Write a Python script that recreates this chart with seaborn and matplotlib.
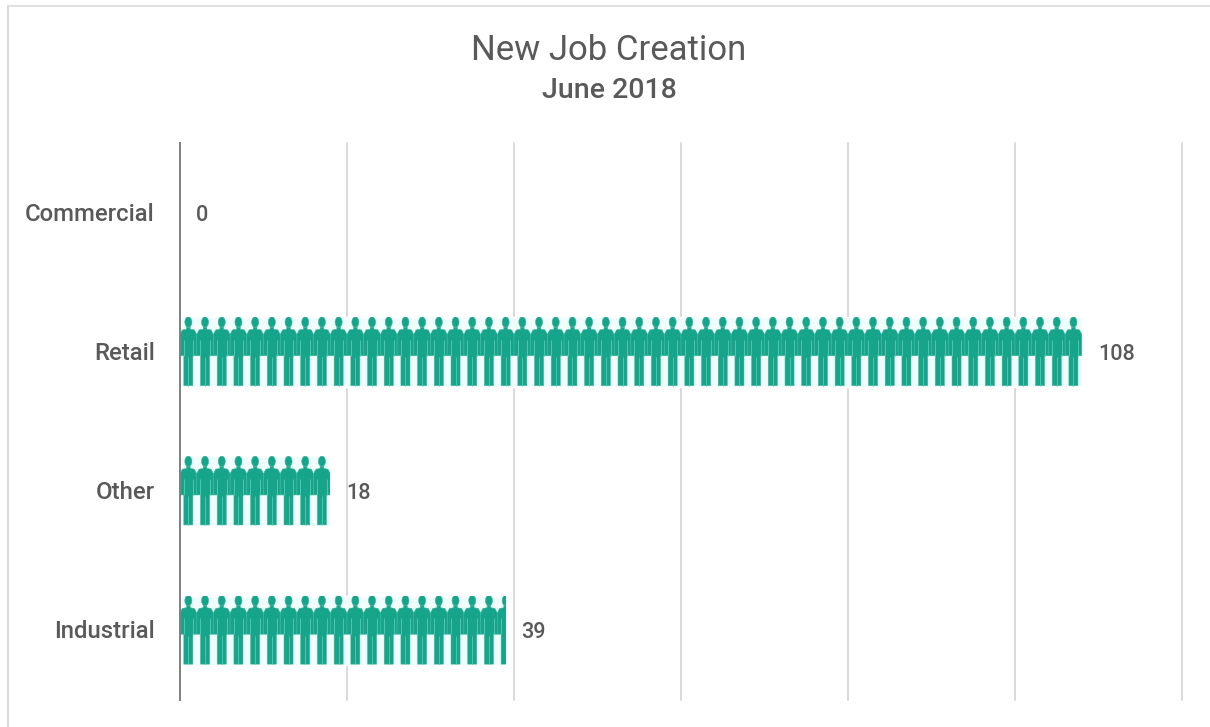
import matplotlib
matplotlib.use("Agg")
import matplotlib.pyplot as plt
from matplotlib.lines import Line2D
from matplotlib.patches import PathPatch
from matplotlib.path import Path
from matplotlib.transforms import Affine2D, ScaledTranslation
import numpy as np
import pandas as pd
import seaborn as sns

categories = ["Commercial", "Retail", "Other", "Industrial"]
jobs = [0, 108, 18, 39]
jobs_per_icon = 2
title = "New Job Creation"
subtitle = "June 2018"

TEAL = "#16a58a"
SLIT = "#58c2ae"
INK = "#595959"
GRID = "#d9d9d9"
W, H = 1210, 727

sns.set_theme(style="white")
plt.rcParams["font.family"] = ["Roboto", "DejaVu Sans"]


def person_path():
    """Unit-cell figure: x spans -1..1 across the icon, y spans -1..1 top to bottom."""
    theta = np.linspace(0, 2 * np.pi, 40)
    head = np.column_stack([0.42 * np.cos(theta), -0.855 + 0.15 * np.sin(theta)])
    body = np.array([
        [-0.22, -0.71], [0.22, -0.71], [0.22, -0.65], [0.72, -0.63], [1.0, -0.50],
        [1.0, 0.11], [0.54, 0.11], [0.54, 0.97], [-0.54, 0.97], [-0.54, 0.11],
        [-1.0, 0.11], [-1.0, -0.50], [-0.72, -0.63], [-0.22, -0.65], [-0.22, -0.71],
    ])
    verts = np.vstack([head, head[:1], body])
    codes = (
        [Path.MOVETO] + [Path.LINETO] * (len(head) - 1) + [Path.CLOSEPOLY]
        + [Path.MOVETO] + [Path.LINETO] * (len(body) - 2) + [Path.CLOSEPOLY]
    )
    return Path(verts, codes)


def slit_path():
    """Thin pale seams between the arms and torso and between the legs."""
    verts = [(-0.58, -0.35), (-0.58, 0.11), (0.58, -0.35), (0.58, 0.11), (0.0, 0.15), (0.0, 0.97)]
    codes = [Path.MOVETO, Path.LINETO] * 3
    return Path(verts, codes)


fig = plt.figure(figsize=(W / 100, H / 100), dpi=100)
fig.patch.set_facecolor("white")
# Chart frame: only the top and left edges fall inside the canvas.
fig.add_artist(Line2D([8 / W, 8 / W], [0, 1 - 5.5 / H], transform=fig.transFigure,
                      color=GRID, linewidth=1.4))
fig.add_artist(Line2D([8 / W, 1], [1 - 5.5 / H, 1 - 5.5 / H], transform=fig.transFigure,
                      color=GRID, linewidth=1.1))

ax = fig.add_axes([180 / W, 1 - 700 / H, (1182 - 180) / W, (700 - 143) / H])
frame = pd.DataFrame({"category": categories, "jobs": jobs})
sns.barplot(data=frame, y="category", x="jobs", ax=ax, width=0.5,
            color="#effdfb", saturation=1, zorder=2)
ax.set_xlim(0, 120)
ax.set_ylim(3.5, -0.5)
ax.set_xticks(np.arange(0, 121, 20))
ax.set_xlabel("")
ax.set_ylabel("")
ax.tick_params(axis="x", length=0, labelbottom=False)
ax.tick_params(axis="y", length=0, pad=18, labelsize=17.2, labelcolor=INK)
nudge_up = ScaledTranslation(0, 1.0 / 100, fig.dpi_scale_trans)
for label in ax.get_yticklabels():
    label.set_fontweight("medium")
    label.set_transform(label.get_transform() + nudge_up)
ax.grid(axis="x", color=GRID, linewidth=1.4)
ax.grid(axis="y", visible=False)
for line in ax.get_xgridlines():
    line.set_clip_on(False)
ax.set_axisbelow(True)
ax.patch.set_alpha(0)
for side in ["top", "right", "bottom"]:
    ax.spines[side].set_visible(False)
ax.spines["left"].set_color("#808080")
ax.spines["left"].set_linewidth(1.4)
ax.spines["left"].set_zorder(5)

# One figure per two jobs, cut off by the bar so partial icons stay partial.
icon = person_path()
seams = slit_path()
bars = ax.containers[0]
half_w = jobs_per_icon / 2
half_h = 0.25
for row, (value, bar) in enumerate(zip(jobs, bars)):
    for k in range(int(np.ceil(value / jobs_per_icon))):
        place = Affine2D().scale(half_w, half_h).translate(half_w + k * jobs_per_icon, row)
        body = PathPatch(icon, transform=place + ax.transData, facecolor=TEAL,
                         edgecolor="#3db59e", linewidth=0.4, zorder=3)
        seam = PathPatch(seams, transform=place + ax.transData, fill=False,
                         edgecolor=SLIT, linewidth=0.7, zorder=4)
        ax.add_patch(body)
        ax.add_patch(seam)
        body.set_clip_path(bar)
        seam.set_clip_path(bar)

for text in ax.bar_label(bars, padding=11.5, fontsize=15.6, color=INK):
    text.set_fontweight("medium")
    text.xyann = (11.5, -1.8)

fig.text(609 / W, 1 - 50 / H, title, ha="center", va="center", fontsize=25, color=INK)
fig.text(609 / W, 1 - 91 / H, subtitle, ha="center", va="center", fontsize=20.5,
         color=INK, fontweight="medium")

fig.savefig("out.png", dpi=100)
